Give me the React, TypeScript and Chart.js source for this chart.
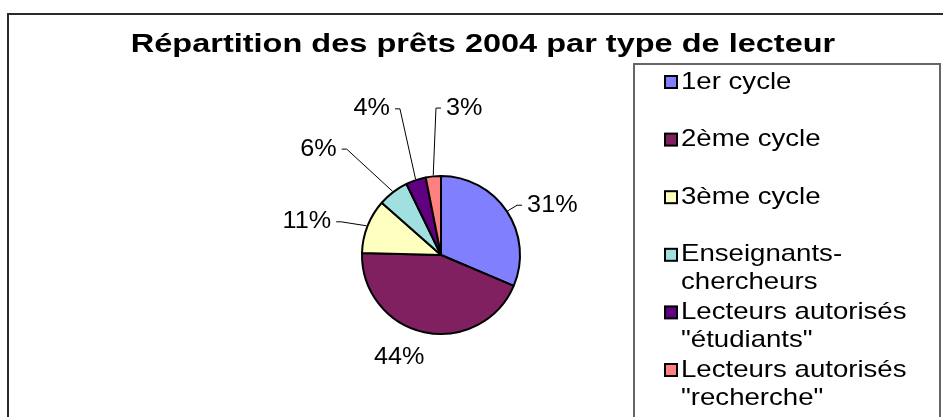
import React, { useEffect, useRef } from 'react';
import { Chart, registerables } from 'chart.js';

Chart.register(...registerables);

// ---------- data ----------
const TITLE = 'Répartition des prêts 2004 par type de lecteur';
const categories: (string | string[])[] = [
  '1er cycle',
  '2ème cycle',
  '3ème cycle',
  ['Enseignants-', 'chercheurs'],
  ['Lecteurs autorisés', '"étudiants"'],
  ['Lecteurs autorisés', '"recherche"'],
];
const shares = [31.4, 44.0, 11.1, 6.3, 4.1, 3.1];
const sliceColors = ['#8080FF', '#802060', '#FFFFC0', '#A0E0E0', '#600080', '#FF8080'];

// ---------- layout (not data) ----------
const FONT = '"Liberation Sans", Arial, sans-serif';
const LEGEND_SX = 1.15;
const LABEL_SX = 1.05;
const TITLE_SX = 1.25;
// label placement relative to the pie centre, in units of the pie radius
const labelLayout = [
  { dx: 1.09, dy: -0.63, align: 'left', leader: true },
  { dx: -0.53, dy: 1.3, align: 'center', leader: false },
  { dx: -1.39, dy: -0.42, align: 'right', leader: true },
  { dx: -1.32, dy: -1.34, align: 'right', leader: true },
  { dx: -0.646, dy: -1.85, align: 'right', leader: true },
  { dx: 0.063, dy: -1.86, align: 'left', leader: true },
];

function drawText(ctx: CanvasRenderingContext2D, text: string, x: number, y: number, align: CanvasTextAlign, sx: number) {
  ctx.save();
  ctx.translate(x, y);
  ctx.scale(sx, 1);
  ctx.textAlign = align;
  ctx.textBaseline = 'middle';
  ctx.fillText(text, 0, 0);
  ctx.restore();
}

const decorPlugin = {
  id: 'decor',
  afterDraw(chart: any) {
    const ctx: CanvasRenderingContext2D = chart.ctx;
    ctx.save();
    // outer frame
    ctx.strokeStyle = '#2a2a2a';
    ctx.lineWidth = 2;
    ctx.strokeRect(8, 14, 1000, 1000);

    // title
    ctx.fillStyle = '#000';
    ctx.font = `bold 26px ${FONT}`;
    drawText(ctx, TITLE, 483, 45, 'center', TITLE_SX);

    // legend box
    ctx.strokeStyle = '#666';
    ctx.lineWidth = 2;
    ctx.strokeRect(634, 64, 306, 500);

    ctx.font = `24px ${FONT}`;
    const labels = chart.data.labels as (string | string[])[];
    const colors = chart.data.datasets[0].backgroundColor as string[];
    labels.forEach((lab, i) => {
      const y0 = 82 + i * 57.6;
      ctx.fillStyle = colors[i];
      ctx.fillRect(665, y0 - 6, 12, 12);
      ctx.strokeStyle = '#000';
      ctx.lineWidth = 2;
      ctx.strokeRect(665, y0 - 6, 12, 12);
      ctx.fillStyle = '#000';
      const lines = Array.isArray(lab) ? lab : [lab];
      lines.forEach((ln, j) => drawText(ctx, ln, 681, y0 + j * 28, 'left', LEGEND_SX));
    });

    // data labels with leader lines
    const meta = chart.getDatasetMeta(0);
    const values = chart.data.datasets[0].data as number[];
    const total = values.reduce((a, b) => a + b, 0);
    meta.data.forEach((arc: any, i: number) => {
      const { x, y, startAngle, endAngle, outerRadius } = arc.getProps(['x', 'y', 'startAngle', 'endAngle', 'outerRadius'], true);
      const L = labelLayout[i];
      const tx = x + L.dx * outerRadius;
      const ty = y + L.dy * outerRadius;
      const txt = Math.round((values[i] / total) * 100) + '%';
      ctx.fillStyle = '#000';
      ctx.font = `24px ${FONT}`;
      drawText(ctx, txt, tx, ty, L.align as CanvasTextAlign, LABEL_SX);
      if (L.leader) {
        const mid = (startAngle + endAngle) / 2;
        const ex = x + Math.cos(mid) * (outerRadius + 1);
        const ey = y + Math.sin(mid) * (outerRadius + 1);
        const dir = L.align === 'right' ? 1 : -1;
        const sx = tx + dir * 5;
        const kx = tx + dir * 10;
        ctx.strokeStyle = '#000';
        ctx.lineWidth = 1;
        ctx.beginPath();
        ctx.moveTo(sx, ty);
        ctx.lineTo(kx, ty);
        ctx.lineTo(ex, ey);
        ctx.stroke();
      }
    });
    ctx.restore();
  },
};

export default function App() {
  const ref = useRef<HTMLCanvasElement | null>(null);
  useEffect(() => {
    if (!ref.current) return;
    const chart = new Chart(ref.current, {
      type: 'pie',
      data: {
        labels: categories as any,
        datasets: [
          {
            data: shares,
            backgroundColor: sliceColors,
            borderColor: '#000',
            borderWidth: 2,
          },
        ],
      },
      options: {
        animation: false,
        responsive: false,
        layout: { padding: { left: 361, right: 422, top: 175, bottom: 82 } },
        plugins: {
          legend: { display: false },
          title: { display: false },
          tooltip: { enabled: false },
        },
      },
      plugins: [decorPlugin],
    });
    return () => chart.destroy();
  }, []);
  return (
    <div style={{ position: 'absolute', left: 0, top: 0, width: 943, height: 417, background: '#fff' }}>
      <canvas ref={ref} width={943} height={417} style={{ display: 'block', width: 943, height: 417 }} />
    </div>
  );
}
